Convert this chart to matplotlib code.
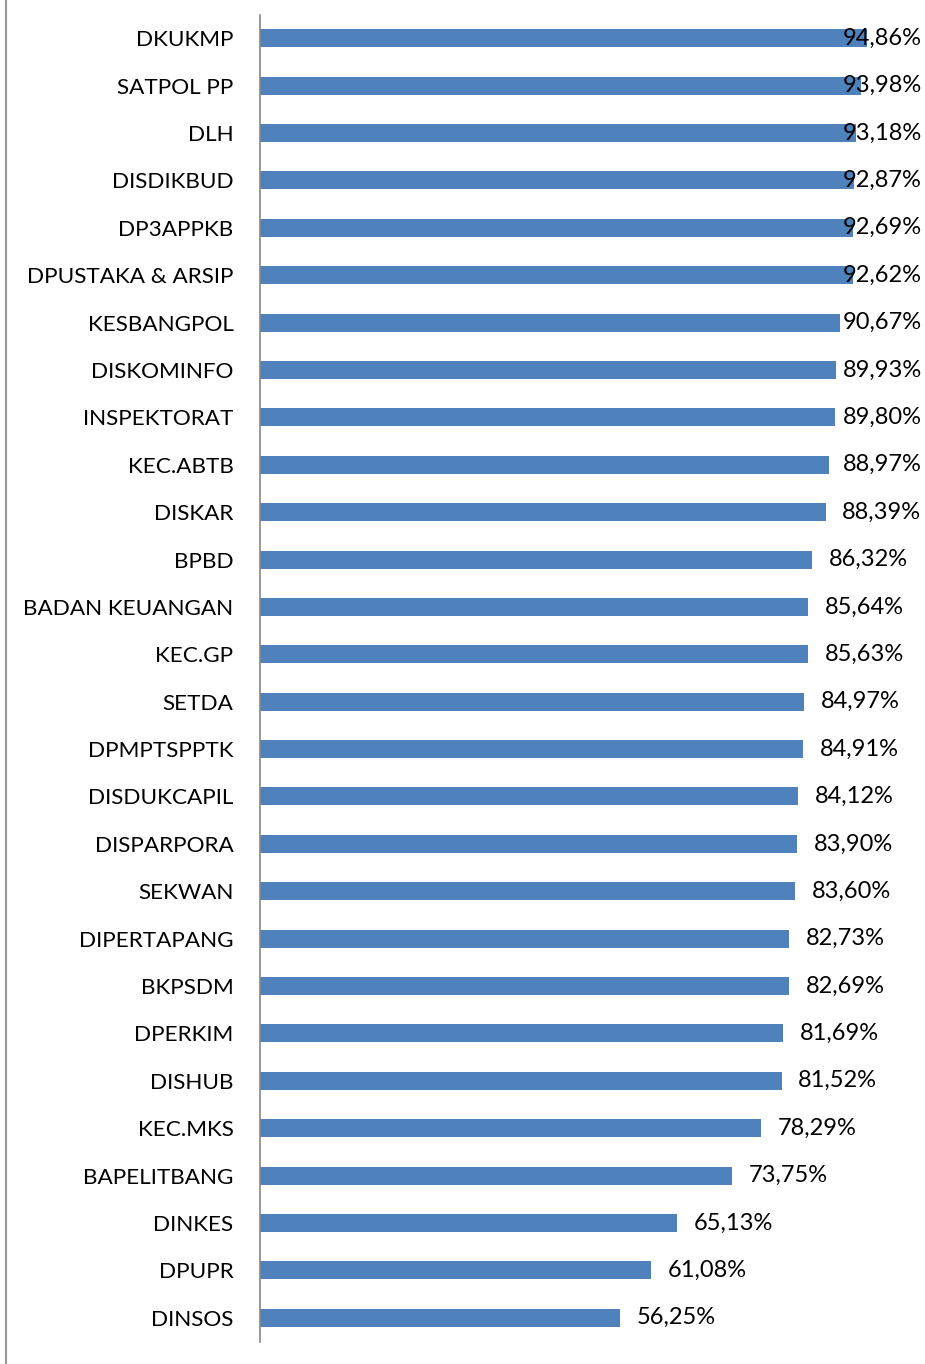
import matplotlib.pyplot as plt
from matplotlib.lines import Line2D

units = ['DKUKMP', 'SATPOL PP', 'DLH', 'DISDIKBUD', 'DP3APPKB', 'DPUSTAKA & ARSIP',
         'KESBANGPOL', 'DISKOMINFO', 'INSPEKTORAT', 'KEC.ABTB', 'DISKAR', 'BPBD',
         'BADAN KEUANGAN', 'KEC.GP', 'SETDA', 'DPMPTSPPTK', 'DISDUKCAPIL', 'DISPARPORA',
         'SEKWAN', 'DIPERTAPANG', 'BKPSDM', 'DPERKIM', 'DISHUB', 'KEC.MKS',
         'BAPELITBANG', 'DINKES', 'DPUPR', 'DINSOS']
scores = [94.86, 93.98, 93.18, 92.87, 92.69, 92.62, 90.67, 89.93, 89.80, 88.97,
          88.39, 86.32, 85.64, 85.63, 84.97, 84.91, 84.12, 83.90, 83.60, 82.73,
          82.69, 81.69, 81.52, 78.29, 73.75, 65.13, 61.08, 56.25]

plt.rcParams['font.family'] = ['Lato', 'DejaVu Sans']

fig = plt.figure(figsize=(9.25, 13.64), dpi=100)
ax = fig.add_axes([260 / 925, 1 - 1341.5 / 1364, 640 / 925, 1327 / 1364])

ypos = list(range(len(units)))
ax.barh(ypos, scores, height=0.38, color='#4F81BD')
ax.set_xlim(0, 100)
ax.set_ylim(len(units) - 0.5, -0.5)
ax.set_yticks(ypos)
ax.set_yticklabels(units, fontsize=16.2)
ax.tick_params(axis='y', length=0, pad=19)
ax.set_xticks([])

for s in ['top', 'right', 'bottom']:
    ax.spines[s].set_visible(False)
ax.spines['left'].set_color('#888888')
ax.spines['left'].set_linewidth(1.2)

# labels sit just past the bar, but are pushed back inside near the right edge
for y, v in zip(ypos, scores):
    lx = min(v + 2.6, 91.0)
    ax.text(lx, y, f'{v:.2f}%'.replace('.', ','), va='center', ha='left',
            fontsize=17, color='black')

fig.add_artist(Line2D([5.5 / 925, 5.5 / 925], [0, 1], transform=fig.transFigure,
                      color='#999999', linewidth=1.5))

fig.savefig('out.png', dpi=100)
